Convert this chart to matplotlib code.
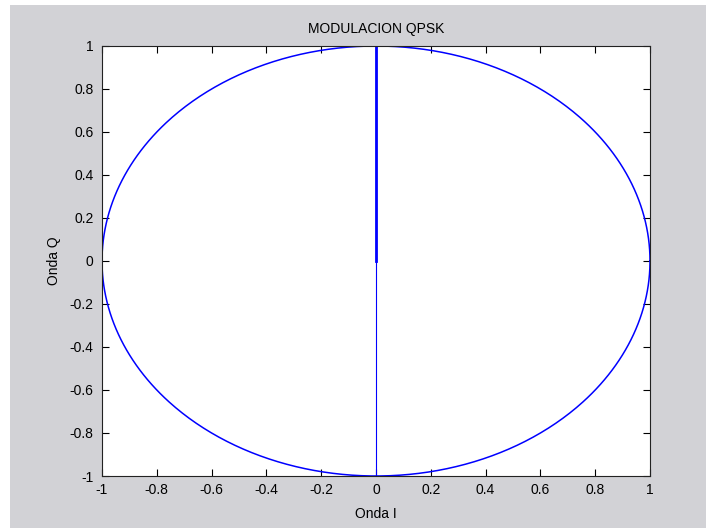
import numpy as np
import matplotlib
matplotlib.use("Agg")
import matplotlib.pyplot as plt
from matplotlib.patches import Rectangle

# carrier phases used for the I/Q trace (one full turn)
fase = np.linspace(0, 2 * np.pi, 721)
onda_i = np.cos(fase)
onda_q = np.sin(fase)

# vertical segments on the Q axis
seg_fino_x = [0, 0]
seg_fino_y = [-1, 1]
seg_grueso_x = [0, 0]
seg_grueso_y = [0, 1]

xticks = [-1, -0.8, -0.6, -0.4, -0.2, 0, 0.2, 0.4, 0.6, 0.8, 1]
yticks = [-1, -0.8, -0.6, -0.4, -0.2, 0, 0.2, 0.4, 0.6, 0.8, 1]
tick_labels = ['-1', '-0.8', '-0.6', '-0.4', '-0.2', '0', '0.2', '0.4', '0.6', '0.8', '1']

gris = '#d2d2d6'
plt.rcParams['font.family'] = ['Liberation Sans', 'DejaVu Sans']
fs = 10

fig = plt.figure(figsize=(7.06, 5.28), dpi=100, facecolor=gris)
# white borders of the screenshot (top and left)
fig.patches.append(Rectangle((0, 1 - 5 / 528), 1, 5 / 528, transform=fig.transFigure,
                             facecolor='white', edgecolor='none', zorder=-1))
fig.patches.append(Rectangle((0, 0), 10 / 706, 1, transform=fig.transFigure,
                             facecolor='white', edgecolor='none', zorder=-1))

ax = fig.add_axes([102 / 706, 1 - 476 / 528, 548 / 706, 430 / 528])
ax.set_facecolor('white')

ax.plot(onda_i, onda_q, color='#0000ff', linewidth=1.1)
ax.plot(seg_fino_x, seg_fino_y, color='#0000ff', linewidth=0.8)
ax.plot(seg_grueso_x, seg_grueso_y, color='#0000ff', linewidth=2.0)

ax.set_xlim(-1, 1)
ax.set_ylim(-1, 1)
ax.set_xticks(xticks)
ax.set_xticklabels(tick_labels)
ax.set_yticks(yticks)
ax.set_yticklabels(tick_labels)
ax.tick_params(direction='in', length=5, width=0.8, top=True, right=True,
               labelsize=fs, colors='black', pad=5)
ax.tick_params(axis='y', pad=6)
for s in ax.spines.values():
    s.set_linewidth(0.8)
    s.set_color('#222222')

ax.set_title('MODULACION QPSK', fontsize=fs, pad=9)
ax.set_xlabel('Onda I', fontsize=fs, labelpad=7)
ax.set_ylabel('Onda Q', fontsize=fs, labelpad=6)

fig.savefig('out.png', dpi=100, facecolor=gris)
